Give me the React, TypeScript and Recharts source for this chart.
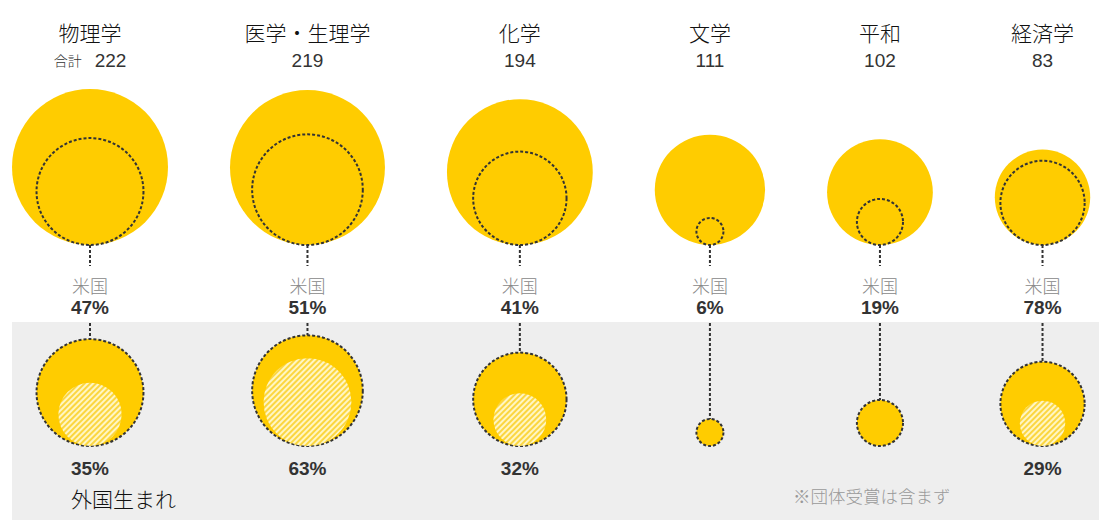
import React from "react";
import { ScatterChart, Scatter, XAxis, YAxis, ZAxis, ReferenceArea } from "recharts";

// ---- data ----
const categories = ["物理学", "医学・生理学", "化学", "文学", "平和", "経済学"];
const totals = [222, 219, 194, 111, 102, 83];
const usShare = [47, 51, 41, 6, 19, 78]; // % of total awarded to US
const foreignBornShare: (number | null)[] = [35, 63, 32, null, null, 29]; // % of US laureates born abroad
const totalPrefix = ["合計", "", "", "", "", ""];

// ---- layout ----
const W = 1107;
const H = 530;
const MAX_V = 222;
const MAX_R = 78;
const MAX_AREA = Math.PI * MAX_R * MAX_R;
const LEFT = 12;
const GAP = 62;
const TOP_BASE = 245;
const BOTTOM_BASE = 446;
const YELLOW = "#FFCC00";
const FONT = "'Liberation Sans', Arial, 'Noto Sans CJK JP', sans-serif";
const JFONT = "'Noto Sans CJK JP', 'Liberation Sans', sans-serif";

const radiusFor = (v: number) => MAX_R * Math.sqrt(v / MAX_V);
const centers: number[] = [];
{
  let left = LEFT;
  totals.forEach((t) => {
    const r = radiusFor(t);
    centers.push(left + r);
    left += 2 * r + GAP;
  });
}

const usCounts = totals.map((t, i) => (t * usShare[i]) / 100);
const topData = categories.map((c, i) => ({ x: centers[i], y: TOP_BASE, z: totals[i], i }));
const usTopData = categories.map((c, i) => ({ x: centers[i], y: TOP_BASE, z: usCounts[i], i }));
const usBottomData = categories.map((c, i) => ({ x: centers[i], y: BOTTOM_BASE, z: usCounts[i], i }));
const foreignData = categories
  .map((c, i) => ({ x: centers[i], y: BOTTOM_BASE, z: foreignBornShare[i] == null ? 0 : (usCounts[i] * (foreignBornShare[i] as number)) / 100, i }))
  .filter((d) => d.z > 0);

const rOf = (p: any) => (p.width != null ? p.width / 2 : Math.sqrt(p.size / Math.PI));

const TopShape = (p: any) => {
  const r = rOf(p);
  const i = p.payload.i;
  const cx = p.cx;
  const base = p.cy;
  return (
    <g>
      <circle cx={cx} cy={base - r} r={r} fill={YELLOW} />
      <text x={cx} y={base - 213} textAnchor="middle" dominantBaseline="central" fontFamily={JFONT} fontWeight={300} fontSize={21} fill="#111">
        {categories[i]}
      </text>
      <text x={cx} y={base - 185} textAnchor="middle" dominantBaseline="central" fill="#333">
        {totalPrefix[i] ? (
          <tspan fontFamily={JFONT} fontWeight={300} fontSize={14}>{totalPrefix[i]}</tspan>
        ) : null}
        <tspan fontFamily={FONT} fontSize={19} dx={totalPrefix[i] ? 13 : 0}>{totals[i]}</tspan>
      </text>
      <line x1={cx} y1={base} x2={cx} y2={base + 21} stroke="#333" strokeWidth={2} strokeDasharray="3 2" />
      <text x={cx} y={base + 40} textAnchor="middle" dominantBaseline="central" fontFamily={JFONT} fontWeight={300} fontSize={18} fill="#888">
        米国
      </text>
      <text x={cx} y={base + 62} textAnchor="middle" dominantBaseline="central" fontFamily={FONT} fontWeight="bold" fontSize={19} fill="#333">
        {usShare[i]}%
      </text>
    </g>
  );
};

const DashedShape = (p: any) => {
  const r = rOf(p);
  return <circle cx={p.cx} cy={p.cy - r} r={r} fill="none" stroke="#333" strokeWidth={2} strokeDasharray="3 2" />;
};

const BottomShape = (p: any) => {
  const r = rOf(p);
  const cx = p.cx;
  const base = p.cy;
  const i = p.payload.i;
  return (
    <g>
      <line x1={cx} y1={323} x2={cx} y2={base - 2 * r} stroke="#333" strokeWidth={2} strokeDasharray="3 2" />
      <circle cx={cx} cy={base - r} r={r} fill={YELLOW} stroke="#333" strokeWidth={2} strokeDasharray="3 2" />
      {foreignBornShare[i] != null ? (
        <text x={cx} y={base + 22} textAnchor="middle" dominantBaseline="central" fontFamily={FONT} fontWeight="bold" fontSize={19} fill="#333">
          {foreignBornShare[i]}%
        </text>
      ) : null}
    </g>
  );
};

const HatchShape = (p: any) => {
  const r = rOf(p);
  return (
    <g>
      <defs>
        <pattern id="hatch" patternUnits="userSpaceOnUse" width={4} height={4} patternTransform="rotate(45)">
          <rect x={0} y={0} width={4} height={4} fill="#FBD640" />
          <rect x={0} y={0} width={2} height={4} fill="#FFF6C4" />
        </pattern>
      </defs>
      <circle cx={p.cx} cy={p.cy - r} r={r} fill="url(#hatch)" />
    </g>
  );
};

const BandLabel = (props: any) => {
  const vb = props.viewBox || {};
  const x0 = vb.x ?? 12;
  const y0 = vb.y ?? 322;
  return (
    <g>
      <text x={x0 + 59} y={y0 + 176} dominantBaseline="central" fontFamily={JFONT} fontWeight={300} fontSize={21} fill="#111">
        外国生まれ
      </text>
      <text x={x0 + 781} y={y0 + 173} dominantBaseline="central" fontFamily={JFONT} fontWeight={300} fontSize={17.5} fill="#999">
        ※団体受賞は含まず
      </text>
    </g>
  );
};

export default function App() {
  return (
    <div style={{ position: "absolute", left: 0, top: 0, width: W, height: H, background: "#fff" }}>
      <ScatterChart width={W} height={H} margin={{ top: 0, right: 0, bottom: 0, left: 0 }}>
        <XAxis type="number" dataKey="x" domain={[0, W]} hide allowDataOverflow />
        <YAxis type="number" dataKey="y" domain={[0, H]} reversed hide allowDataOverflow />
        <ZAxis type="number" dataKey="z" domain={[0, MAX_V]} range={[0, MAX_AREA]} />
        <ReferenceArea x1={12} x2={1099} y1={322} y2={520} fill="#EEEEEE" fillOpacity={1} stroke="none" label={<BandLabel />} />
        <Scatter data={topData} shape={<TopShape />} isAnimationActive={false} />
        <Scatter data={usTopData} shape={<DashedShape />} isAnimationActive={false} />
        <Scatter data={usBottomData} shape={<BottomShape />} isAnimationActive={false} />
        <Scatter data={foreignData} shape={<HatchShape />} isAnimationActive={false} />
      </ScatterChart>
    </div>
  );
}
